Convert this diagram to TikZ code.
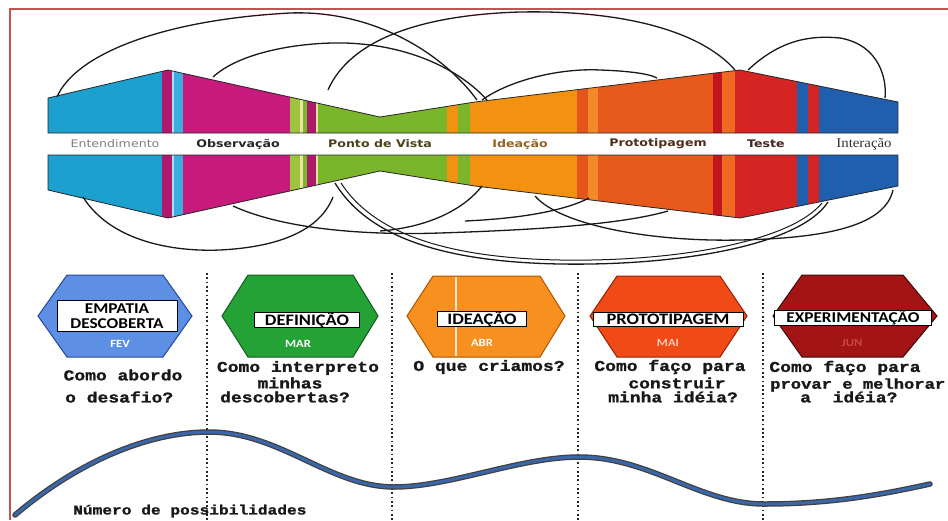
\documentclass[tikz,border=0pt]{standalone}
\usepackage{fontspec}
\setmainfont{DejaVu Sans}
\newfontfamily\bandfont[FakeStretch=1.2]{DejaVu Sans}
\newfontfamily\serifband[FakeStretch=1.1]{Liberation Serif}
\newfontfamily\hexfont[FakeStretch=1.15]{Carlito}
\newfontfamily\qfont[FakeStretch=1.2, BoldFeatures={FakeBold=1.2}]{Liberation Mono}
\definecolor{frameR}{HTML}{C85050}
\definecolor{cyanB}{HTML}{1BA0D0}
\definecolor{cyanL}{HTML}{3AAEDC}
\definecolor{magB}{HTML}{C8197D}
\definecolor{magD}{HTML}{B0186E}
\definecolor{greenB}{HTML}{7AB62C}
\definecolor{greenL}{HTML}{9CC441}
\definecolor{paleY}{HTML}{E8E4A0}
\definecolor{orangeB}{HTML}{F39210}
\definecolor{protoS}{HTML}{E4561C}
\definecolor{protoL}{HTML}{F5892A}
\definecolor{protoO}{HTML}{E85A1C}
\definecolor{darkR}{HTML}{C0161C}
\definecolor{lightO}{HTML}{F06A24}
\definecolor{testeR}{HTML}{D42424}
\definecolor{blueB}{HTML}{1F5FAE}
\definecolor{hexBlue}{HTML}{5D90E4}
\definecolor{hexGreen}{HTML}{24A236}
\definecolor{hexOrange}{HTML}{F7901E}
\definecolor{hexRed}{HTML}{F04B16}
\definecolor{hexDark}{HTML}{A31414}
\definecolor{waveB}{HTML}{3A66AA}
\newcommand\bandstripes{%
  \fill[cyanB] (48,40) rectangle (162,240);
  \fill[magD] (162,40) rectangle (172,240);
  \fill[cyanL!40] (172,40) rectangle (174,240);
  \fill[cyanL] (174,40) rectangle (183,240);
  \fill[magB] (183,40) rectangle (290,240);
  \fill[greenL] (290,40) rectangle (300,240);
  \fill[paleY] (300,40) rectangle (303,240);
  \fill[greenB] (303,40) rectangle (307,240);
  \fill[magD] (307,40) rectangle (316,240);
  \fill[paleY] (316,40) rectangle (318,240);
  \fill[greenB] (318,40) rectangle (447,240);
  \fill[orangeB] (447,40) rectangle (458,240);
  \fill[greenB] (458,40) rectangle (470,240);
  \fill[orangeB] (470,40) rectangle (577,240);
  \fill[protoS] (577,40) rectangle (588,240);
  \fill[protoL] (588,40) rectangle (598,240);
  \fill[protoO] (598,40) rectangle (713,240);
  \fill[darkR] (713,40) rectangle (722,240);
  \fill[lightO] (722,40) rectangle (735,240);
  \fill[testeR] (735,40) rectangle (797,240);
  \fill[blueB] (797,40) rectangle (808,240);
  \fill[testeR] (808,40) rectangle (819,240);
  \fill[blueB] (819,40) rectangle (899,240);}
\tikzset{
  loopline/.style={line width=1.3pt, black!90},
  divider/.style={line width=1.7pt, black!85, dash pattern=on 1.7pt off 2.6pt},
  bandlabel/.style={inner sep=0pt, anchor=center, font=\bandfont\bfseries\fontsize{10.5}{10.5}\selectfont},
  hexbox/.style={draw=black, line width=0.9pt, fill=white, inner sep=0pt, font=\hexfont\bfseries\fontsize{16}{14}\selectfont, text=black},
  hextext/.style={inner sep=0pt, font=\hexfont\bfseries\fontsize{15}{15}\selectfont, text=black},
  monthlabel/.style={inner sep=0pt, font=\hexfont\bfseries\fontsize{11}{11}\selectfont},
  qtext/.style={inner sep=0pt, font=\qfont\bfseries\fontsize{15}{15}\selectfont, text=black!90},
}
\begin{document}
\begin{tikzpicture}[x=1pt,y=-1pt]
\useasboundingbox (0,0) rectangle (948,520);
\fill[white] (0,0) rectangle (948,520);
% frame
\draw[frameR, line width=2pt] (10,520) -- (10,9) -- (948,9);
% band halves
\begin{scope}
\clip (48,98) -- (168,70) -- (380,117) -- (475,102) -- (740,70) -- (898,102) -- (898,133) -- (48,133) -- cycle;
\bandstripes
\end{scope}
\begin{scope}
\clip (48,190) -- (168,218) -- (380,171) -- (475,186) -- (740,218) -- (898,186) -- (898,155) -- (48,155) -- cycle;
\bandstripes
\end{scope}
\draw[black!85, line width=0.8pt, line join=round] (48,98) -- (168,70) -- (380,117) -- (475,102) -- (740,70) -- (898,102) -- (898,133) -- (48,133) -- cycle;
\draw[black!85, line width=0.8pt, line join=round] (48,190) -- (168,218) -- (380,171) -- (475,186) -- (740,218) -- (898,186) -- (898,155) -- (48,155) -- cycle;
% band labels
\node[bandlabel, font=\bandfont\fontsize{10.5}{10.5}\selectfont, text=black!50] (lEnt) at (115,144) {Entendimento};
\node[bandlabel, text=black!85] (lObs) at (238,144) {Observação};
\node[bandlabel, text={rgb,255:red,80;green,65;blue,30}] (lPon) at (380,144) {Ponto de Vista};
\node[bandlabel, text={rgb,255:red,150;green,100;blue,30}] (lIde) at (520,144) {Ideação};
\node[bandlabel, text={rgb,255:red,80;green,45;blue,30}] (lPro) at (658,144) {Prototipagem};
\node[bandlabel, text={rgb,255:red,70;green,35;blue,35}] (lTes) at (766,144) {Teste};
\node[bandlabel, font=\serifband\fontsize{13.5}{13.5}\selectfont, text=black!80] (lInt) at (864,144) {Interação};
% top loops
\draw[loopline] (57,97) .. controls (75,55) and (160,20) .. (290,13) .. controls (370,10) and (440,50) .. (477,100);
\draw[loopline] (213,77) .. controls (240,52) and (300,42) .. (345,43) .. controls (410,45) and (460,70) .. (487,100);
\draw[loopline] (328,90) .. controls (350,40) and (420,15) .. (520,12) .. controls (620,10) and (700,30) .. (735,70);
\draw[loopline] (482,100) .. controls (510,80) and (560,68) .. (600,70) .. controls (630,71) and (650,74) .. (657,78);
\draw[loopline] (748,70) .. controls (780,40) and (810,35) .. (840,38) .. controls (880,45) and (887,80) .. (885,98);
% bottom loops
\draw[loopline] (83,197) .. controls (110,240) and (170,252) .. (220,250) .. controls (280,247) and (320,230) .. (333,197);
\draw[loopline] (233,206) .. controls (290,232) and (380,235) .. (440,233) .. controls (530,230) and (620,225) .. (668,211);
\draw[loopline] (482,186) .. controls (460,214) and (420,228) .. (380,231);
\draw[loopline] (589,198) .. controls (560,213) and (510,219) .. (465,221);
\draw[loopline] (335,183) .. controls (370,240) and (450,262) .. (560,264) .. controls (680,266) and (800,245) .. (828,202);
\draw[loopline, line width=1pt] (341,183) .. controls (376,237) and (455,258) .. (560,260) .. controls (675,262) and (790,242) .. (822,203);
\draw[loopline] (535,196) .. controls (560,225) and (650,242) .. (740,240) .. controls (830,238) and (885,225) .. (893,190);
% dividers
\foreach \dx in {207,392,578,763} \draw[divider] (\dx,273) -- (\dx,520);
% hexagons
\draw[fill=hexBlue, draw={rgb,255:red,40;green,70;blue,150}, line width=1pt] (38,316) -- (67,275) -- (163,275) -- (192,316) -- (163,357) -- (67,357) -- cycle;
\draw[fill=hexGreen, draw={rgb,255:red,20;green,90;blue,30}, line width=1pt] (222,316) -- (248,275) -- (353,275) -- (378,316) -- (353,357) -- (248,357) -- cycle;
\draw[fill=hexOrange, draw={rgb,255:red,170;green,85;blue,0}, line width=1pt] (407,316) -- (433,276) -- (540,276) -- (565,316) -- (540,357) -- (433,357) -- cycle;
\draw[white!80!orange, line width=1.2pt] (456,277) -- (456,356);
\draw[fill=hexRed, draw={rgb,255:red,150;green,30;blue,10}, line width=1pt] (590,316) -- (617,276) -- (720,276) -- (747,316) -- (720,357) -- (617,357) -- cycle;
\draw[fill=hexDark, draw={rgb,255:red,60;green,10;blue,10}, line width=1pt] (773,316) -- (802,275) -- (903,275) -- (937,316) -- (903,357) -- (802,357) -- cycle;
% hexagon labels
\node[hexbox, minimum width=120pt, minimum height=31pt] (hEmp) at (117,316) {};
\node[hextext] (hEmpA) at (117,308.5) {EMPATIA};
\node[hextext] (hEmpB) at (117,324) {DESCOBERTA};
\node[hexbox, minimum width=105pt, minimum height=14pt] (hDef) at (307,320) {DEFINIÇÃO};
\node[hexbox, minimum width=89pt, minimum height=14pt] (hIde) at (482,319) {IDEAÇÃO};
\node[hexbox, minimum width=150pt, minimum height=14pt] (hPro) at (668,319) {PROTOTIPAGEM};
\node[hexbox, minimum width=157pt, minimum height=14pt, font=\hexfont\bfseries\fontsize{15}{14}\selectfont] (hExp) at (853,318) {EXPERIMENTAÇÃO};
\node[monthlabel, text=white] (mFev) at (120,344) {FEV};
\node[monthlabel, text=white] (mMar) at (298,344) {MAR};
\node[monthlabel, text=white] (mAbr) at (482,343) {ABR};
\node[monthlabel, text={rgb,255:red,250;green,200;blue,180}] (mMai) at (668,343) {MAI};
\node[monthlabel, text={rgb,255:red,200;green,70;blue,70}] (mJun) at (852,343) {JUN};
% questions
\node[qtext] (q1a) at (123,375) {Como abordo};
\node[qtext, anchor=west] (q1b) at (65,397) {o desafio?};
\node[qtext] (q2a) at (298,368) {Como interpreto};
\node[qtext] (q2b) at (290,383) {minhas};
\node[qtext] (q2c) at (285,397) {descobertas?};
\node[qtext] (q3a) at (489,367) {O que criamos?};
\node[qtext] (q4a) at (670,367) {Como faço para};
\node[qtext] (q4b) at (677,383) {construir};
\node[qtext] (q4c) at (673,397) {minha idéia?};
\node[qtext] (q5a) at (845,368) {Como faço para};
\node[qtext, anchor=west, font=\qfont\bfseries\fontsize{14.3}{14.3}\selectfont] (q5b) at (770,385) {provar e melhorar};
\node[qtext, anchor=west] (q5c) at (800,397) {a\ \ idéia?};
% wave
\draw[line width=5.5pt, black!75, line cap=round] (15,515) .. controls (80,460) and (150,432) .. (209,432) .. controls (280,432) and (330,487) .. (394,487) .. controls (450,487) and (520,457) .. (579,457) .. controls (650,457) and (700,504) .. (764,504) .. controls (830,504) and (880,495) .. (930,484);
\draw[line width=3pt, waveB, line cap=round] (15,515) .. controls (80,460) and (150,432) .. (209,432) .. controls (280,432) and (330,487) .. (394,487) .. controls (450,487) and (520,457) .. (579,457) .. controls (650,457) and (700,504) .. (764,504) .. controls (830,504) and (880,495) .. (930,484);
\node[qtext, anchor=west, font=\qfont\bfseries\fontsize{13.5}{13.5}\selectfont] (nPos) at (73,511) {Número de possibilidades};
\end{tikzpicture}
\end{document}
